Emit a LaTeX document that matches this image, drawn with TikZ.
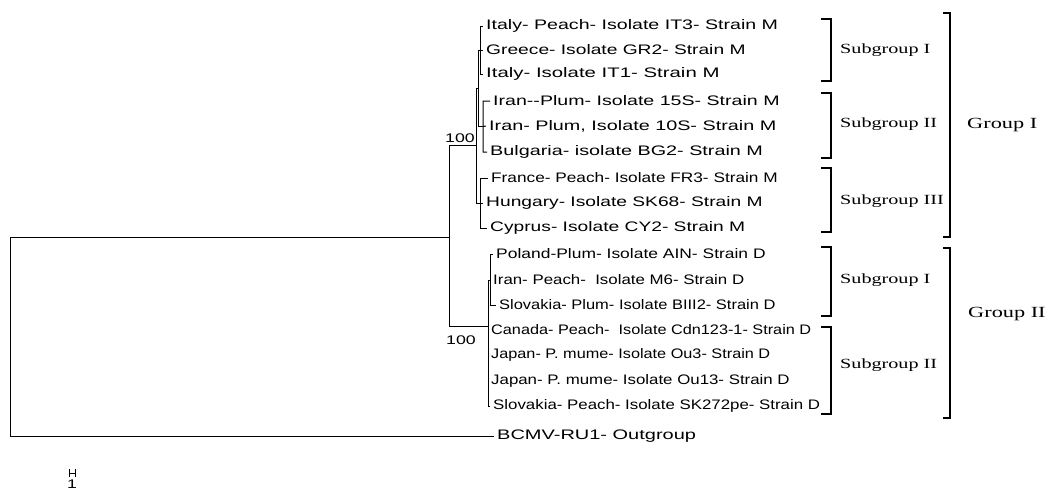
\documentclass[tikz,border=0pt]{standalone}
\usepackage{fontspec}
\usepackage{graphicx}
\newfontfamily\leaffont[FakeStretch=1.42]{Liberation Sans}
\newfontfamily\grpfont[FakeStretch=1.44]{Liberation Serif}
\newcommand\hsq[2]{\scalebox{#1}[1]{#2}}
\begin{document}
\begin{tikzpicture}[x=1pt,y=-1pt,
  leaf/.style={anchor=west,inner xsep=3pt,inner ysep=0pt,font=\leaffont\fontsize{13.8}{14}\selectfont},
  branch/.style={line width=1pt,black},
  brk/.style={line width=2pt,black},
  sublbl/.style={anchor=west,inner sep=0pt,font=\grpfont\fontsize{14}{15}\selectfont},
  grplbl/.style={anchor=west,inner sep=0pt,font=\grpfont\fontsize{15.5}{16}\selectfont},
  boot/.style={inner sep=0pt,font=\leaffont\fontsize{12.5}{13}\selectfont}]
\useasboundingbox (0,0) rectangle (1051,490);
% leaves
\node[leaf] (l1) at (483,26) {Italy- Peach- Isolate IT3- Strain M};
\node[leaf] (l2) at (483,50) {\hsq{0.98}{Greece- Isolate GR2- Strain M}};
\node[leaf] (l3) at (483,74) {\hsq{1.04}{Italy- Isolate IT1- Strain M}};
\node[leaf] (l4) at (490,101) {Iran--Plum- Isolate 15S- Strain M};
\node[leaf] (l5) at (486,126) {\hsq{1.01}{Iran- Plum, Isolate 10S- Strain M}};
\node[leaf] (l6) at (487,152) {\hsq{1.01}{Bulgaria- isolate BG2- Strain M}};
\node[leaf] (l7) at (488,178) {\hsq{0.88}{France- Peach- Isolate FR3- Strain M}};
\node[leaf] (l8) at (483,203) {\hsq{0.98}{Hungary- Isolate SK68- Strain M}};
\node[leaf] (l9) at (487,228) {\hsq{0.98}{Cyprus- Isolate CY2- Strain M}};
\node[leaf] (l10) at (493,254) {\hsq{0.89}{Poland-Plum- Isolate AIN- Strain D}};
\node[leaf] (l11) at (490,280) {\hsq{0.86}{Iran- Peach-\ \ Isolate M6- Strain D}};
\node[leaf] (l12) at (496,305) {\hsq{0.84}{Slovakia- Plum- Isolate BIII2- Strain D}};
\node[leaf] (l13) at (488,330) {\hsq{0.83}{Canada- Peach-\ \ Isolate Cdn123-1- Strain D}};
\node[leaf] (l14) at (488,355) {\hsq{0.83}{Japan- P. mume- Isolate Ou3- Strain D}};
\node[leaf] (l15) at (488,381) {\hsq{0.86}{Japan- P. mume- Isolate Ou13- Strain D}};
\node[leaf] (l16) at (490,406) {\hsq{0.86}{Slovakia- Peach- Isolate SK272pe- Strain D}};
\node[leaf] (out) at (494,436) {\hsq{1.02}{BCMV-RU1- Outgroup}};
% internal nodes
\coordinate (sgA) at (480,50);
\coordinate (sgB) at (483,126.5);
\coordinate (nA) at (478,88);
\coordinate (sgC) at (480,203);
\coordinate (g1) at (476,145);
\coordinate (sgD) at (490,280);
\coordinate (g2) at (488,326);
\coordinate (g12) at (449,237);
\coordinate (root) at (10,237);
% branches
\draw[branch] (sgA) |- (l1.west) (sgA) -- (l2.west) (sgA) |- (l3.west);
\draw[branch] (sgB) |- (l4.west) (sgB) -- (l5.west) (sgB) |- (l6.west);
\draw[branch] (sgC) |- (l7.west) (sgC) -- (l8.west) (sgC) |- (l9.west);
\draw[branch] (nA) |- (sgA) (nA) |- (sgB);
\draw[branch] (g1) |- (nA) (g1) |- (sgC);
\draw[branch] (sgD) |- (l10.west) (sgD) -- (l11.west) (sgD) |- (l12.west);
\draw[branch] (g2) |- (sgD) (g2) |- (l13.west) (g2) |- (l14.west) (g2) |- (l15.west) (g2) |- (l16.west);
\draw[branch] (g12) |- (g1) (g12) |- (g2);
\draw[branch] (root) -- (g12) (root) |- (out.west);
% bootstrap
\node[boot] (b1) at (460,138) {100};
\node[boot] (b2) at (461,340) {100};
% scale bar
\draw[line width=0.7pt] (69,469) -- (69,477) (75,469) -- (75,477) (69,473) -- (75,473);
\node[boot] (sc) at (72,484) {1};
% brackets
\draw[brk] (821,19) -- (831,19) -- (831,81) -- (821,81);
\draw[brk] (821,93) -- (831,93) -- (831,158) -- (821,158);
\draw[brk] (821,168) -- (831,168) -- (831,232) -- (821,232);
\draw[brk] (821,247) -- (831,247) -- (831,316) -- (821,316);
\draw[brk] (821,327) -- (831,327) -- (831,414) -- (821,414);
\draw[brk] (943,13) -- (950,13) -- (950,237) -- (943,237);
\draw[brk] (943,248) -- (950,248) -- (950,418) -- (943,418);
\node[sublbl] (s1) at (840,50) {Subgroup I};
\node[sublbl] (s2) at (840,124) {Subgroup II};
\node[sublbl] (s3) at (840,201) {Subgroup III};
\node[sublbl] (s4) at (840,280) {Subgroup I};
\node[sublbl] (s5) at (840,365) {Subgroup II};
\node[grplbl] (G1) at (967,125) {Group I};
\node[grplbl] (G2) at (968,314) {Group II};
\end{tikzpicture}
\end{document}
